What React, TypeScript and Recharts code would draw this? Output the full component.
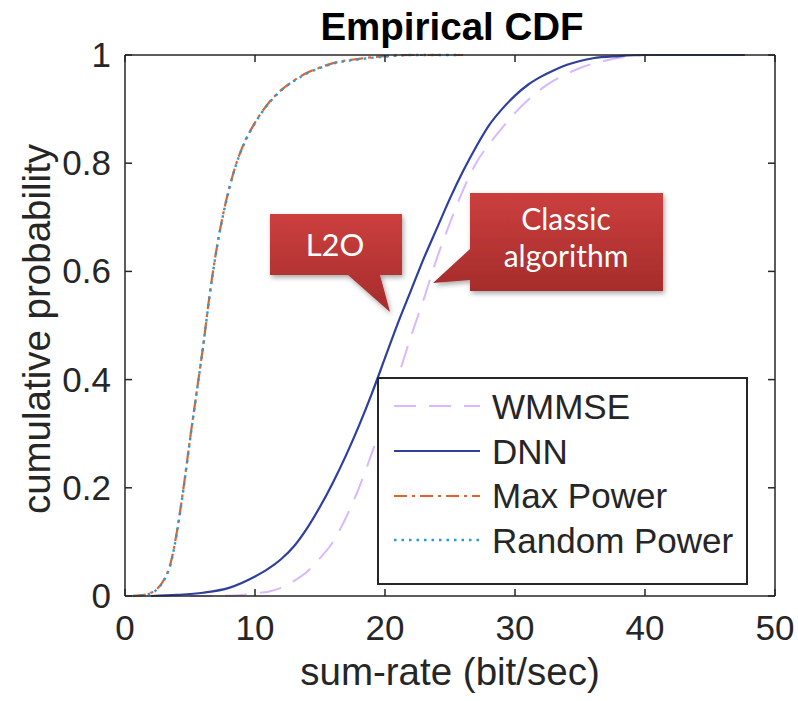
import React from 'react';
import { LineChart, Line, XAxis, YAxis, Legend, Label } from 'recharts';

// values
const wmmseRate = [5, 7, 9, 10, 11, 12, 13, 14, 15, 16, 17, 18, 19, 20, 21, 22, 23, 24, 25, 26, 27, 28, 29, 30, 31, 32, 33, 34, 35, 36, 37, 38, 39, 40, 44];
const wmmseProb = [0, 0, 0.002, 0.005, 0.008, 0.015, 0.028, 0.045, 0.07, 0.1, 0.145, 0.2, 0.265, 0.335, 0.405, 0.48, 0.55, 0.625, 0.69, 0.75, 0.8, 0.835, 0.865, 0.893, 0.917, 0.937, 0.953, 0.965, 0.976, 0.984, 0.99, 0.995, 0.998, 1, 1];

const dnnRate = [2, 4, 6, 8, 10, 11, 12, 13, 14, 15, 16, 17, 18, 19, 20, 21, 22, 23, 24, 25, 26, 27, 28, 29, 30, 31, 32, 33, 34, 35, 36, 38, 40, 47.7];
const dnnProb = [0, 0.002, 0.006, 0.015, 0.036, 0.05, 0.068, 0.092, 0.125, 0.165, 0.21, 0.26, 0.315, 0.375, 0.44, 0.505, 0.565, 0.625, 0.68, 0.735, 0.785, 0.83, 0.87, 0.9, 0.925, 0.945, 0.96, 0.972, 0.982, 0.989, 0.994, 0.998, 1, 1];

const maxPowerRate = [0.6, 1.5, 2, 2.5, 3, 3.5, 4, 4.5, 5, 5.5, 6, 6.5, 7, 7.5, 8, 8.5, 9, 10, 11, 12, 13, 14, 15, 16, 18, 20, 22, 26];
const maxPowerProb = [0, 0.002, 0.006, 0.014, 0.03, 0.06, 0.12, 0.2, 0.29, 0.375, 0.46, 0.555, 0.635, 0.7, 0.752, 0.795, 0.828, 0.875, 0.91, 0.935, 0.953, 0.967, 0.977, 0.985, 0.993, 0.998, 1, 1];

const randomPowerRate = [0.6, 1.5, 2, 2.5, 3, 3.5, 4, 4.5, 5, 5.5, 6, 6.5, 7, 7.5, 8, 8.5, 9, 10, 11, 12, 13, 14, 15, 16, 18, 20, 22, 25.5];
const randomPowerProb = [0, 0.002, 0.005, 0.013, 0.029, 0.058, 0.118, 0.198, 0.288, 0.374, 0.46, 0.553, 0.634, 0.699, 0.751, 0.794, 0.827, 0.874, 0.909, 0.934, 0.952, 0.966, 0.976, 0.984, 0.992, 0.997, 1, 1];

const xTicks = [0, 10, 20, 30, 40, 50];
const yTicks = [0, 0.2, 0.4, 0.6, 0.8, 1];

const toPoints = (rate, prob) => rate.map((x, i) => ({ x, y: prob[i] }));

// Random Power sits on the top/right axes (same domains) so the box frame gets drawn
const series = [
  { name: 'WMMSE', data: toPoints(wmmseRate, wmmseProb), color: '#d8b8ff', dash: '22 13', width: 2, xId: 0, yId: 0 },
  { name: 'DNN', data: toPoints(dnnRate, dnnProb), color: '#2f3f9e', dash: undefined, width: 2.2, xId: 0, yId: 0 },
  { name: 'Max Power', data: toPoints(maxPowerRate, maxPowerProb), color: '#e2622a', dash: '13 5 3 5', width: 2.2, xId: 0, yId: 0 },
  { name: 'Random Power', data: toPoints(randomPowerRate, randomPowerProb), color: '#2a9ad8', dash: '2.5 5', width: 2.4, xId: 'top', yId: 'right' },
];

const axisColor = '#262626';
const font = '"Liberation Sans", Arial, Helvetica, sans-serif';
const calloutFont = "Lato, 'Open Sans', sans-serif";

const BottomTick = ({ x, y, payload }) => (
  <g>
    <line x1={x} y1={y} x2={x} y2={y - 7} stroke={axisColor} strokeWidth={1.5} />
    <text x={x} y={y + 44} textAnchor="middle" fontSize={35} fill={axisColor} fontFamily={font}>
      {payload.value}
    </text>
  </g>
);

const LeftTick = ({ x, y, payload }) => (
  <g>
    <line x1={x} y1={y} x2={x + 7} y2={y} stroke={axisColor} strokeWidth={1.5} />
    <text x={x - 14} y={y + 12} textAnchor="end" fontSize={35} fill={axisColor} fontFamily={font}>
      {payload.value}
    </text>
  </g>
);

const TopTick = ({ x, y }) => <line x1={x} y1={y} x2={x} y2={y + 7} stroke={axisColor} strokeWidth={1.5} />;
const RightTick = ({ x, y }) => <line x1={x} y1={y} x2={x - 7} y2={y} stroke={axisColor} strokeWidth={1.5} />;

const LegendBox = () => (
  <div
    style={{
      width: 371,
      height: 208,
      boxSizing: 'border-box',
      border: `2px solid ${axisColor}`,
      background: '#fff',
      paddingTop: 5,
      fontFamily: font,
      fontSize: 35,
      color: axisColor,
    }}
  >
    {series.map((s) => (
      <div key={s.name} style={{ display: 'flex', alignItems: 'center', height: 44.7 }}>
        <svg width={100} height={10} style={{ marginLeft: 13 }}>
          <line x1={2} y1={5} x2={88} y2={5} stroke={s.color} strokeWidth={s.width} strokeDasharray={s.dash} />
        </svg>
        <span style={{ lineHeight: 1 }}>{s.name}</span>
      </div>
    ))}
  </div>
);

const Callouts = () => (
  <svg width={798} height={701} style={{ position: 'absolute', left: 0, top: 0, pointerEvents: 'none' }}>
    <defs>
      <linearGradient id="calloutFill" x1="0" y1="0" x2="0" y2="1">
        <stop offset="0%" stopColor="#cc3f3e" />
        <stop offset="100%" stopColor="#a52c2b" />
      </linearGradient>
      <filter id="calloutShadow" x="-20%" y="-20%" width="140%" height="140%">
        <feDropShadow dx="1.5" dy="2.5" stdDeviation="2.5" floodColor="#000" floodOpacity="0.35" />
      </filter>
    </defs>
    <text x={452} y={40} textAnchor="middle" fontSize={38.5} fontWeight="bold" fill="#000" fontFamily={font}>
      Empirical CDF
    </text>
    <path d="M270,214 H402 V275 H380 L390,312 L348,275 H270 Z" fill="url(#calloutFill)" filter="url(#calloutShadow)" />
    <text x={335} y={256} textAnchor="middle" fontSize={31} fill="#fff" fontFamily={calloutFont}>
      L2O
    </text>
    <path d="M470,193 H663 V291 H470 V280 L433,283 L470,249 Z" fill="url(#calloutFill)" filter="url(#calloutShadow)" />
    <text x={566} y={230} textAnchor="middle" fontSize={30} fill="#fff" fontFamily={calloutFont}>
      Classic
    </text>
    <text x={566} y={267} textAnchor="middle" fontSize={30} fill="#fff" fontFamily={calloutFont}>
      algorithm
    </text>
  </svg>
);

export default function App() {
  return (
    <div style={{ position: 'absolute', left: 0, top: 0, width: 798, height: 701, background: '#fff' }}>
      <LineChart width={798} height={701} margin={{ top: 54, right: 22, bottom: 65, left: 65 }}>
        <XAxis
          type="number"
          dataKey="x"
          domain={[0, 50]}
          ticks={xTicks}
          height={40}
          tickSize={0}
          tickMargin={0}
          tick={BottomTick}
          axisLine={{ stroke: axisColor, strokeWidth: 1.5 }}
          allowDuplicatedCategory={false}
        >
          <Label
            content={({ viewBox }) => (
              <text
                x={viewBox.x + viewBox.width / 2}
                y={viewBox.y + 89}
                textAnchor="middle"
                fontSize={38.5}
                fill={axisColor}
                fontFamily={font}
              >
                sum-rate (bit/sec)
              </text>
            )}
          />
        </XAxis>
        <XAxis
          xAxisId="top"
          orientation="top"
          type="number"
          dataKey="x"
          domain={[0, 50]}
          ticks={xTicks}
          height={1}
          tickSize={0}
          tickMargin={0}
          tick={TopTick}
          axisLine={{ stroke: axisColor, strokeWidth: 1.5 }}
          allowDuplicatedCategory={false}
        />
        <YAxis
          type="number"
          domain={[0, 1]}
          ticks={yTicks}
          width={60}
          tickSize={0}
          tickMargin={0}
          tick={LeftTick}
          axisLine={{ stroke: axisColor, strokeWidth: 1.5 }}
        >
          <Label
            content={() => (
              <text
                x={50}
                y={329}
                transform="rotate(-90 50 329)"
                textAnchor="middle"
                fontSize={38.5}
                fill={axisColor}
                fontFamily={font}
              >
                cumulative probability
              </text>
            )}
          />
        </YAxis>
        <YAxis
          yAxisId="right"
          orientation="right"
          type="number"
          domain={[0, 1]}
          ticks={yTicks}
          width={1}
          tickSize={0}
          tickMargin={0}
          tick={RightTick}
          axisLine={{ stroke: axisColor, strokeWidth: 1.5 }}
        />
        {series.map((s) => (
          <Line
            key={s.name}
            xAxisId={s.xId}
            yAxisId={s.yId}
            data={s.data}
            dataKey="y"
            name={s.name}
            type="monotone"
            stroke={s.color}
            strokeWidth={s.width}
            strokeDasharray={s.dash}
            dot={false}
            activeDot={false}
            isAnimationActive={false}
          />
        ))}
        <Legend
          layout="horizontal"
          verticalAlign="middle"
          align="center"
          content={LegendBox}
          wrapperStyle={{ left: 377, top: 377, width: 371, height: 208 }}
        />
      </LineChart>
      <Callouts />
    </div>
  );
}
